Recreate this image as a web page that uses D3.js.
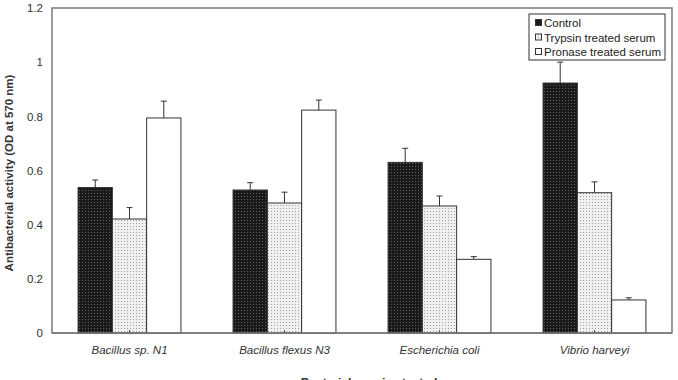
<!DOCTYPE html>
<html><head><meta charset="utf-8">
<script src="https://cdn.jsdelivr.net/npm/d3@7"></script>
<style>body{margin:0;background:#fff;}svg{display:block;font-family:Arial,"Liberation Sans",sans-serif;}</style>
</head><body><svg id="c" width="678" height="380"></svg>
<script>
const categories = ["Bacillus sp. N1", "Bacillus flexus N3", "Escherichia coli", "Vibrio harveyi"];
const seriesNames = ["Control", "Trypsin treated serum", "Pronase treated serum"];
const control = [0.537, 0.528, 0.630, 0.923];
const controlErr = [0.028, 0.027, 0.052, 0.077];
const trypsin = [0.421, 0.480, 0.469, 0.518];
const trypsinErr = [0.042, 0.040, 0.037, 0.040];
const pronase = [0.794, 0.823, 0.272, 0.122];
const pronaseErr = [0.062, 0.037, 0.010, 0.008];
const yTicks = [0, 0.2, 0.4, 0.6, 0.8, 1, 1.2];
const yTickLabels = ["0", "0.2", "0.4", "0.6", "0.8", "1", "1.2"];

const svg = d3.select("#c");
const m = {l: 52, r: 672, t: 8, b: 333};
const defs = svg.append("defs");
const p1 = defs.append("pattern").attr("id","pCtrl").attr("width",3).attr("height",3).attr("patternUnits","userSpaceOnUse");
p1.append("rect").attr("width",3).attr("height",3).attr("fill","#1a1a1a");
p1.append("rect").attr("x",1).attr("y",1).attr("width",1).attr("height",1).attr("fill","#5e5e5e");
const p2 = defs.append("pattern").attr("id","pTryp").attr("width",3).attr("height",3).attr("patternUnits","userSpaceOnUse");
p2.append("rect").attr("width",3).attr("height",3).attr("fill","#f0f0f0");
p2.append("rect").attr("x",1).attr("y",1).attr("width",1).attr("height",1).attr("fill","#a0a0a0");
const fills = ["url(#pCtrl)", "url(#pTryp)", "#ffffff"];

const x = d3.scaleBand().domain(categories).range([m.l, m.r]).paddingInner(0).paddingOuter(0);
const xs = d3.scaleBand().domain(d3.range(3)).range([0, x.bandwidth()]).paddingInner(0).paddingOuter(0.76);
const y = d3.scaleLinear().domain([0, 1.2]).range([m.b, m.t]);

const data = [control, trypsin, pronase];
const errs = [controlErr, trypsinErr, pronaseErr];

svg.append("rect").attr("x",m.l).attr("y",m.t).attr("width",m.r-m.l).attr("height",m.b-m.t)
  .attr("fill","none").attr("stroke","#7a7a7a").attr("stroke-width",1.5);

categories.forEach((c, ci) => {
  data.forEach((s, si) => {
    const bx = x(c) + xs(si);
    const bw = xs.bandwidth();
    const yt = y(s[ci] + errs[si][ci]);
    svg.append("line").attr("x1",bx+bw/2).attr("x2",bx+bw/2).attr("y1",y(s[ci])).attr("y2",yt).attr("stroke","#333").attr("stroke-width",1);
    svg.append("line").attr("x1",bx+bw/2-3).attr("x2",bx+bw/2+3).attr("y1",yt).attr("y2",yt).attr("stroke","#333").attr("stroke-width",1);
    svg.append("rect").attr("x",bx).attr("y",y(s[ci])).attr("width",bw).attr("height",y(0)-y(s[ci]))
      .attr("fill",fills[si]).attr("stroke","#333").attr("stroke-width",1);
  });
});

categories.forEach(c => {
  svg.append("line").attr("x1",x(c)+x.bandwidth()/2).attr("x2",x(c)+x.bandwidth()/2).attr("y1",m.b).attr("y2",m.b-3).attr("stroke","#555");
});
svg.append("line").attr("x1",m.l).attr("x2",m.r).attr("y1",m.b).attr("y2",m.b).attr("stroke","#7a7a7a").attr("stroke-width",1.5);

const yAxis = d3.axisLeft(y).tickValues(yTicks).tickFormat((d,i)=>yTickLabels[i]).tickSize(0).tickPadding(9);
const ga = svg.append("g").attr("transform",`translate(${m.l},0)`).call(yAxis);
ga.select(".domain").remove();
ga.selectAll("text").attr("font-size",11.5).attr("fill","#333").attr("font-family","Arial,'Liberation Sans',sans-serif");

const xAxis = d3.axisBottom(x).tickSize(0).tickPadding(13);
const gx = svg.append("g").attr("transform",`translate(0,${m.b})`).call(xAxis);
gx.select(".domain").remove();
gx.selectAll("text").attr("font-size",11.5).attr("font-style","italic").attr("fill","#333").attr("font-family","Arial,'Liberation Sans',sans-serif");

svg.append("text").attr("transform","translate(13,173) rotate(-90)").attr("text-anchor","middle")
  .attr("font-size",11.5).attr("font-weight","bold").attr("fill","#333").text("Antibacterial  activity (OD at 570 nm)");
svg.append("text").attr("x",369).attr("y",387).attr("text-anchor","middle")
  .attr("font-size",12).attr("font-weight","bold").attr("fill","#333").text("Bacterial species tested");

const lg = svg.append("g");
lg.append("rect").attr("x",529).attr("y",14).attr("width",136).attr("height",46).attr("fill","#fff").attr("stroke","#333").attr("stroke-width",1);
seriesNames.forEach((n,i)=>{
  const yy = 23 + i*14.5;
  lg.append("rect").attr("x",535.5).attr("y",yy-3.5).attr("width",6).attr("height",6)
    .attr("fill", i===0 ? "#1a1a1a" : (i===1 ? "url(#pTryp)" : "#fff")).attr("stroke","#333").attr("stroke-width",1);
  lg.append("text").attr("x",544).attr("y",yy+4).attr("font-size",11.5).attr("fill","#222").text(n);
});
</script></body></html>
